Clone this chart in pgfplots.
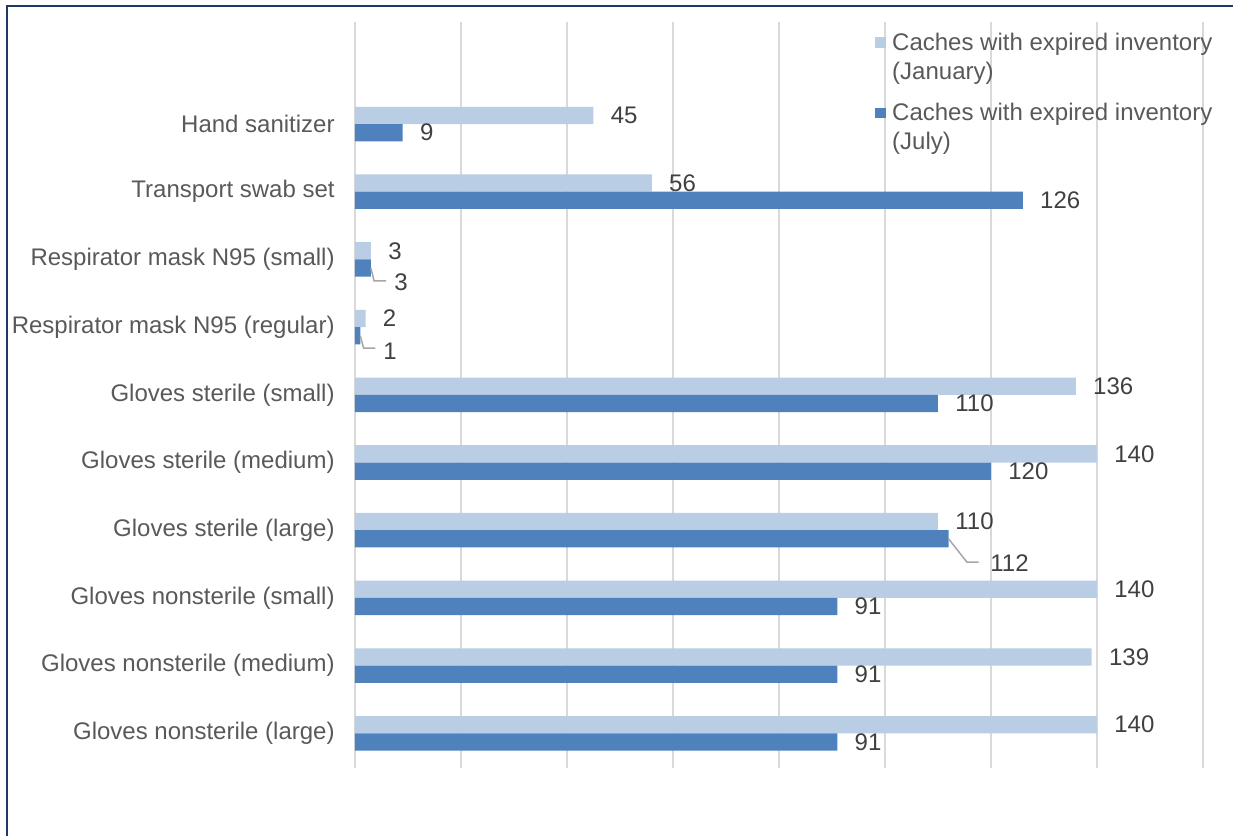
\documentclass[border=0pt]{standalone}
\usepackage{pgfplots}
\pgfplotsset{compat=1.18}
\usepackage{pgfplotstable}
\usepackage{fontspec}
\setmainfont{Liberation Sans}
\definecolor{janc}{HTML}{B9CDE5}
\definecolor{julc}{HTML}{4F81BD}
\definecolor{txtc}{HTML}{595959}
\definecolor{lblc}{HTML}{404040}
\definecolor{gridc}{HTML}{D9D9D9}
\definecolor{framec}{HTML}{1F3864}
\definecolor{leadc}{HTML}{A6A6A6}
\pgfplotsset{sqlegend/.style={legend image code/.code={\fill[##1] (0pt,1.2pt) rectangle (5.2pt,6.4pt);}}}

\pgfplotstableread{
y x
0 45
1 56
2 3
3 2
4 136
5 140
6 110
7 140
8 139
9 140
}\jan
\pgfplotstableread{
y x dx dy
0 9 0 0
1 126 0 0
2 3 3 -7.2
3 1 2.8 -7.6
4 110 0 0
5 120 0 0
6 112 12.2 -12
7 91 0 0
8 91 0 0
9 91 0 0
}\jul

\begin{document}
\begin{tikzpicture}
\begin{axis}[
  at={(0,0)}, anchor=south west,
  scale only axis, width=424pt, height=373pt,
  xmin=0, xmax=160, ymin=-1.507, ymax=9.513,
  y dir=reverse,
  clip=false,
  /pgf/number format/assume math mode=true,
  axis line style={draw=none},
  xtick={0,20,...,160}, xticklabels={},
  xmajorgrids, major grid style={gridc, line width=1pt},
  ytick={0,...,9},
  yticklabels={Hand sanitizer, Transport swab set, Respirator mask N95 (small), Respirator mask N95 (regular), Gloves sterile (small), Gloves sterile (medium), Gloves sterile (large), Gloves nonsterile (small), Gloves nonsterile (medium), Gloves nonsterile (large)},
  major tick length=0pt,
  yticklabel style={font=\fontsize{12}{14}\selectfont, text=txtc, inner sep=0pt, xshift=-10pt},
  xbar, bar width=0.255,
  point meta=x,
  nodes near coords={\pgfmathprintnumber[assume math mode=true]{\pgfplotspointmeta}},
  nodes near coords style={font=\fontsize{12}{14}\selectfont, text=lblc, anchor=west, inner sep=0pt, xshift=8.5pt},
  legend style={at={(0.613,0.986)}, anchor=north west, draw=none, fill=none,
    font=\fontsize{12}{14.5}\selectfont, inner sep=0pt, row sep=9.5pt, column sep=3.3pt,
    cells={anchor=base west}, nodes={inner sep=0pt, text=txtc, text depth=}},
]
\addplot[fill=janc, draw=none, bar shift=-0.1275, sqlegend]
  table[x=x,y=y]{\jan};
\addlegendentry{\parbox[t]{170pt}{Caches with expired inventory\\(January)}}
\addplot[fill=julc, draw=none, bar shift=0.1275, sqlegend,
  visualization depends on={\thisrow{dx}\as\mydx},
  visualization depends on={\thisrow{dy}\as\mydy},
  nodes near coords style={xshift=\mydx pt, yshift=\mydy pt}]
  table[x=x,y=y]{\jul};
\addlegendentry{\parbox[t]{170pt}{Caches with expired inventory\\(July)}}
\draw[leadc, line width=0.75pt] (axis cs:3,2.1275) -- ++(1.6pt,-6.4pt) -- ++(6pt,0pt);
\draw[leadc, line width=0.75pt] (axis cs:1,3.1275) -- ++(1.65pt,-6.15pt) -- ++(5.85pt,0pt);
\draw[leadc, line width=0.75pt] (axis cs:112,6.1275) -- ++(9.2pt,-11.7pt) -- ++(5.8pt,0pt);
\end{axis}
\pgfresetboundingbox
\path[use as bounding box] (-177.5pt,-34pt) rectangle (439pt,384pt);
\draw[framec, line width=1pt] (-174pt,-40pt) -- (-174pt,381pt) -- (445pt,381pt);
\end{tikzpicture}
\end{document}
